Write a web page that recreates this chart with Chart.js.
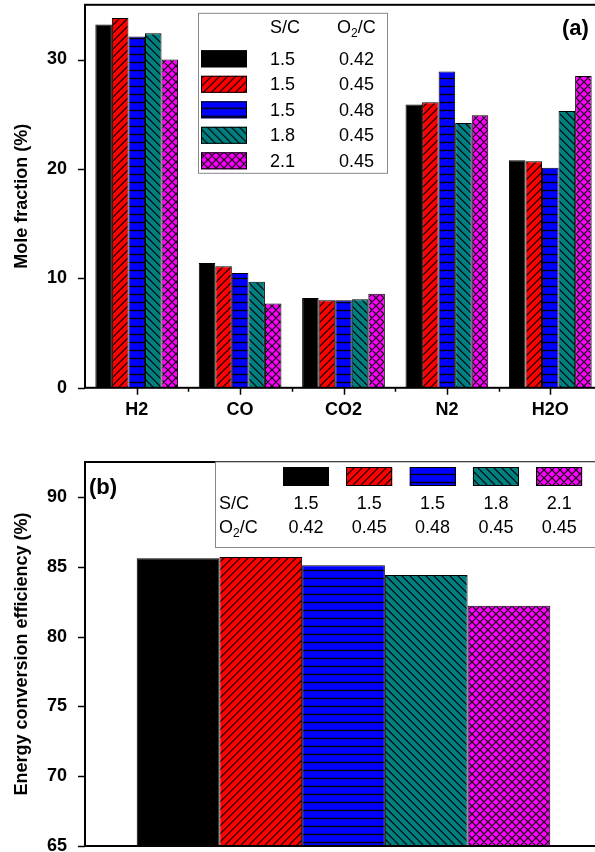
<!DOCTYPE html>
<html>
<head>
<meta charset="utf-8">
<script src="https://cdn.jsdelivr.net/npm/chart.js@4.4.0/dist/chart.umd.min.js"></script>
<style>
  html, body { margin:0; padding:0; background:#fff; width:595px; height:852px; overflow:hidden; }
  canvas { position:absolute; left:0; }
  #chartA { top:0; }
  #chartB { top:430px; }
</style>
</head>
<body>
<canvas id="chartA" width="640" height="430"></canvas>
<canvas id="chartB" width="640" height="440"></canvas>
<script>
// ---- data ----
const gases     = ['H2', 'CO', 'CO2', 'N2', 'H2O'];
const scValues  = ['1.5', '1.5', '1.5', '1.8', '2.1'];
const o2cValues = ['0.42', '0.45', '0.48', '0.45', '0.45'];

// mole fraction (%) per gas, one array per S/C - O2/C case
const mole_15_042 = [33.2, 11.4, 8.2, 25.9, 20.8];
const mole_15_045 = [33.8, 11.1, 8.0, 26.1, 20.7];
const mole_15_048 = [32.1, 10.5, 8.0, 28.9, 20.1];
const mole_18_045 = [32.4,  9.7, 8.1, 24.2, 25.3];
const mole_21_045 = [30.0,  7.7, 8.6, 24.9, 28.5];

// energy conversion efficiency (%), same case order
const efficiency = [85.6, 85.7, 85.1, 84.4, 82.2];

const moleTicks = [0, 10, 20, 30];
const effTicks  = [65, 70, 75, 80, 85, 90];

const FONT = "'Liberation Sans', Arial, sans-serif";

// ---- hatch fills ----
function makePattern(bg, kind){
  const s = 8;
  const c = document.createElement('canvas'); c.width = s; c.height = s;
  const g = c.getContext('2d');
  g.fillStyle = bg; g.fillRect(0, 0, s, s);
  g.strokeStyle = '#000'; g.lineWidth = 1.2;
  g.beginPath();
  if(kind === 'fwd' || kind === 'cross'){
    g.moveTo(-1, 1); g.lineTo(1, -1);
    g.moveTo(0, s); g.lineTo(s, 0);
    g.moveTo(s-1, s+1); g.lineTo(s+1, s-1);
  }
  if(kind === 'back' || kind === 'cross'){
    g.moveTo(-1, s-1); g.lineTo(1, s+1);
    g.moveTo(0, 0); g.lineTo(s, s);
    g.moveTo(s-1, -1); g.lineTo(s+1, 1);
  }
  if(kind === 'horiz'){
    g.lineWidth = 1.4;
    g.moveTo(0, 4.5); g.lineTo(s, 4.5);
  }
  g.stroke();
  return g.createPattern(c, 'repeat');
}

const fills = [
  '#000000',
  makePattern('#ff0000', 'fwd'),
  makePattern('#0000ff', 'horiz'),
  makePattern('#008080', 'back'),
  makePattern('#ff00ff', 'cross')
];

const moleSeries = [mole_15_042, mole_15_045, mole_15_048, mole_18_045, mole_21_045];

// ---- shared plugin: frame + tick marks ----
const axisFrame = {
  id: 'axisFrame',
  afterDraw(chart, args, opts){
    const {ctx, chartArea: a, scales: {x, y}} = chart;
    ctx.save();
    ctx.strokeStyle = '#000';
    ctx.lineWidth = 2;
    ctx.strokeRect(a.left, a.top, a.right - a.left, a.bottom - a.top);
    ctx.lineWidth = 1.5;
    ctx.beginPath();
    y.ticks.forEach(t => {
      const py = Math.round(y.getPixelForValue(t.value)) + 0.5;
      const len = opts.major.includes(t.value) ? 7 : 4;
      ctx.moveTo(a.left - len, py); ctx.lineTo(a.left, py);
    });
    if(opts.xTicks){
      const n = chart.data.labels.length;
      for(let i = 0; i < n; i++){
        const px = Math.round(x.getPixelForValue(i)) + 0.5;
        ctx.moveTo(px, a.bottom); ctx.lineTo(px, a.bottom + 7);
        if(i < n - 1){
          const mx = Math.round((x.getPixelForValue(i) + x.getPixelForValue(i + 1)) / 2) + 0.5;
          ctx.moveTo(mx, a.bottom); ctx.lineTo(mx, a.bottom + 4);
        }
      }
    }
    ctx.stroke();
    ctx.restore();
  }
};

function drawO2C(ctx, x, y, size){
  ctx.textAlign = 'left';
  ctx.font = size + 'px ' + FONT;
  ctx.fillText('O', x, y);
  const w = ctx.measureText('O').width;
  ctx.font = Math.round(size * 0.65) + 'px ' + FONT;
  ctx.fillText('2', x + w, y + size * 0.32);
  const w2 = ctx.measureText('2').width;
  ctx.font = size + 'px ' + FONT;
  ctx.fillText('/C', x + w + w2, y);
}

// legend (a) is placed relative to the chart area top (page y = 5)
const legendA = {
  id: 'legendA',
  afterDraw(chart){
    const ctx = chart.ctx;
    const t = chart.chartArea.top - 5;
    ctx.save();
    ctx.translate(0, t);
    ctx.fillStyle = '#fff';
    ctx.fillRect(198.5, 13.5, 189, 160);
    ctx.strokeStyle = '#888'; ctx.lineWidth = 1;
    ctx.strokeRect(198.5, 13.5, 189, 160);
    ctx.fillStyle = '#000';
    ctx.textBaseline = 'middle';
    ctx.font = '18px ' + FONT;
    ctx.textAlign = 'left';
    ctx.fillText('S/C', 270, 28);
    drawO2C(ctx, 337, 28, 18);
    scValues.forEach((sc, i) => {
      const cy = 59 + i * 25.5;
      ctx.fillStyle = fills[i];
      ctx.fillRect(201, cy - 8.5, 46, 17);
      ctx.strokeStyle = '#000'; ctx.lineWidth = 1;
      ctx.strokeRect(201.5, cy - 8, 45, 16);
      ctx.fillStyle = '#000';
      ctx.font = '18px ' + FONT;
      ctx.fillText(sc, 270, cy + 1);
      ctx.fillText(o2cValues[i], 339, cy + 1);
    });
    ctx.font = 'bold 22px ' + FONT;
    ctx.fillText('(a)', 562, 29);
    ctx.restore();
  }
};

// ---- legend (b) ----
const legendB = {
  id: 'legendB',
  afterDraw(chart){
    const ctx = chart.ctx;
    const top = chart.chartArea.top;
    ctx.save();
    ctx.fillStyle = '#fff';
    ctx.fillRect(215.5, top, 500, 85);
    ctx.strokeStyle = '#888'; ctx.lineWidth = 1;
    ctx.strokeRect(215.5, top, 500, 85.5);
    ctx.textBaseline = 'middle';
    scValues.forEach((sc, i) => {
      const sx = 283 + i * 63.3;
      ctx.fillStyle = fills[i];
      ctx.fillRect(sx, top + 5, 46, 19);
      ctx.strokeStyle = '#000'; ctx.lineWidth = 1;
      ctx.strokeRect(Math.round(sx) + 0.5, top + 5.5, 45, 18);
      ctx.fillStyle = '#000';
      ctx.font = '18px ' + FONT;
      ctx.textAlign = 'center';
      ctx.fillText(sc, sx + 23, top + 42);
      ctx.fillText(o2cValues[i], sx + 23, top + 66);
    });
    ctx.textAlign = 'left';
    ctx.font = '18px ' + FONT;
    ctx.fillText('S/C', 219, top + 42);
    drawO2C(ctx, 219, top + 66, 18);
    ctx.font = 'bold 22px ' + FONT;
    ctx.fillText('(b)', 89, top + 26);
    ctx.restore();
  }
};

const tickFont  = {family: FONT, size: 18, weight: 'bold'};
const titleFont = {family: FONT, size: 18, weight: 'bold'};
// invisible grid: only used so the tick labels sit 18px left of the axis
const hiddenGrid = { display: true, drawOnChartArea: false, drawTicks: true, tickLength: 18,
                     color: 'rgba(0,0,0,0)', tickColor: 'rgba(0,0,0,0)' };

let xHeightA = 42;

// ---- (a) mole fraction ----
const canvasA = document.getElementById('chartA');
const chartA = new Chart(canvasA, {
  type: 'bar',
  data: {
    labels: gases,
    datasets: moleSeries.map((d, i) => ({
      label: 'S/C ' + scValues[i] + ', O2/C ' + o2cValues[i],
      data: d,
      backgroundColor: fills[i],
      borderColor: '#000', borderWidth: 1
    }))
  },
  options: {
    responsive: false, animation: false,
    layout: { padding: { left: 0, right: 38, top: 0, bottom: 0 } },
    datasets: { bar: { categoryPercentage: 0.8, barPercentage: 1.0 } },
    plugins: { legend: { display: false }, tooltip: { enabled: false },
               axisFrame: { xTicks: true, major: moleTicks } },
    scales: {
      x: {
        grid: { display: false, drawTicks: false }, border: { display: false },
        ticks: { color: '#000', font: tickFont, padding: 11 },
        afterFit: s => { s.height = xHeightA; }
      },
      y: {
        min: 0, max: 35,
        grid: hiddenGrid, border: { display: false },
        ticks: { stepSize: 5, autoSkip: false, color: '#000', font: tickFont, padding: 0,
                 callback: v => moleTicks.includes(v) ? v : null },
        title: { display: true, text: 'Mole fraction (%)', color: '#000', font: titleFont, padding: { top: 11, bottom: 0 } },
        afterFit: s => { s.width = 85; }
      }
    }
  },
  plugins: [axisFrame, legendA]
});

// Chart.js keeps a minimum top gap; shift the canvas so the frame top sits at y=5
const shiftA = 5 - chartA.chartArea.top;
if(shiftA !== 0){
  canvasA.style.top = shiftA + 'px';
  xHeightA = 42 + shiftA;
  chartA.update();
}

// ---- (b) energy conversion efficiency ----
new Chart(document.getElementById('chartB'), {
  type: 'bar',
  data: {
    labels: [''],
    datasets: efficiency.map((v, i) => ({
      label: 'S/C ' + scValues[i] + ', O2/C ' + o2cValues[i],
      data: [v],
      backgroundColor: fills[i],
      borderColor: '#000', borderWidth: 1
    }))
  },
  options: {
    responsive: false, animation: false,
    layout: { padding: { left: 0, right: 38, top: 32, bottom: 18 } },
    datasets: { bar: { categoryPercentage: 0.8, barPercentage: 1.0 } },
    plugins: { legend: { display: false }, tooltip: { enabled: false },
               axisFrame: { xTicks: false, major: effTicks } },
    scales: {
      x: {
        grid: { display: false, drawTicks: false }, border: { display: false },
        ticks: { display: false },
        afterFit: s => { s.height = 6; }
      },
      y: {
        min: 65, max: 92.5,
        grid: hiddenGrid, border: { display: false },
        ticks: { stepSize: 2.5, autoSkip: false, color: '#000', font: tickFont, padding: 0,
                 callback: v => effTicks.includes(v) ? v : null },
        title: { display: true, text: 'Energy conversion efficiency (%)', color: '#000', font: titleFont, padding: { top: 11, bottom: 0 } },
        afterFit: s => { s.width = 85; }
      }
    }
  },
  plugins: [axisFrame, legendB]
});
</script>
</body>
</html>
